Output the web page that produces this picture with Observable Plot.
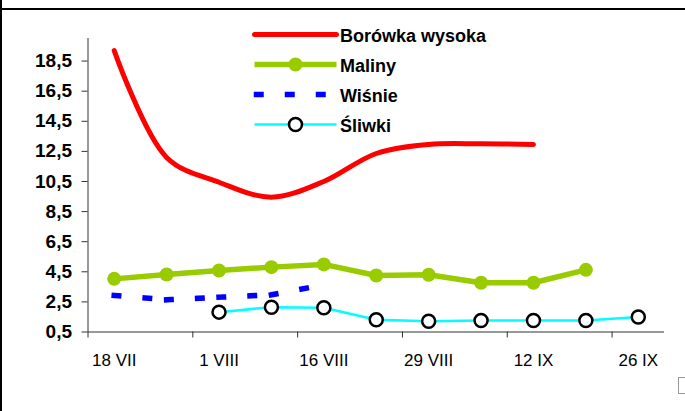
<!DOCTYPE html>
<html>
<head>
<meta charset="utf-8">
<script src="https://cdn.jsdelivr.net/npm/d3@7"></script>
<script src="https://cdn.jsdelivr.net/npm/@observablehq/plot@0.6"></script>
<style>
  html, body { margin: 0; padding: 0; background: #fff; }
  #wrap { position: relative; width: 685px; height: 411px; overflow: hidden; font-family: "Liberation Sans", Arial, sans-serif; }
  #wrap svg { display: block; }
  #legend { position: absolute; left: 250px; top: 18px; }
  .frame-top { position: absolute; left: 0; top: 8px; width: 685px; height: 2px; background: #000; }
  .frame-left { position: absolute; left: 0; top: 0; width: 2px; height: 411px; background: #000; }
  .stub { position: absolute; left: 678px; top: 377px; width: 12px; height: 15px; border: 1px solid #999; background: #fff; }
</style>
</head>
<body>
<div id="wrap">
  <div id="chart"></div>
  <div id="legend"></div>
  <div class="frame-top"></div>
  <div class="frame-left"></div>
  <div class="stub"></div>
</div>
<script>
// ---- data (category index 0..10) ----
const xTickLabels = ["18 VII", "1 VIII", "16 VIII", "29 VIII", "12 IX", "26 IX"];
const xTickIndex  = [0, 2, 4, 6, 8, 10];
const yTicks = [0.5, 2.5, 4.5, 6.5, 8.5, 10.5, 12.5, 14.5, 16.5, 18.5];

const seriesNames = ["Borówka wysoka", "Maliny", "Wiśnie", "Śliwki"];
const borowka = [19.2, 12.1, 10.45, 9.46, 10.5, 12.36, 12.96, 13.0, 12.96, null, null];
const maliny  = [4.03, 4.32, 4.59, 4.81, 4.99, 4.25, 4.30, 3.77, 3.77, 4.63, null];
const wisnie  = [2.93, 2.64, 2.81, 2.97, 3.64, null, null, null, null, null, null];
const sliwki  = [null, null, 1.82, 2.15, 2.11, 1.31, 1.22, 1.26, 1.26, 1.26, 1.5];

const colors = { red: "#FF0000", green: "#99CC00", blue: "#0000FF", cyan: "#00FFFF" };

const toPts = arr => arr.map((v, i) => ({i, v})).filter(d => d.v != null);
const bPts = toPts(borowka), mPts = toPts(maliny), wPts = toPts(wisnie), sPts = toPts(sliwki);
const wSegs = d3.pairs(wPts).map(([a, b]) => ({x1: a.i, y1: a.v, x2: b.i, y2: b.v}));
const boundaries = d3.range(-0.5, 10.5, 2);
const axisColor = "#333";

const chart = Plot.plot({
  width: 685, height: 411,
  marginLeft: 87.5, marginRight: 21, marginTop: 38, marginBottom: 79.5,
  x: {type: "linear", domain: [-0.5, 10.5]},
  y: {domain: [0.5, 20]},
  style: {fontFamily: "'Liberation Sans', Arial, sans-serif", background: "transparent", color: "#000"},
  marks: [
    Plot.axisY({ticks: yTicks, tickSize: 6, tickPadding: 10, stroke: axisColor,
      tickFormat: d => String(d).replace(".", ","), fontSize: 19, fontWeight: "bold", label: null}),
    Plot.axisX({ticks: boundaries, tickSize: 6, stroke: axisColor, tickFormat: () => "", label: null}),
    Plot.axisX({ticks: xTickIndex, tickSize: 0, tickPadding: 21.5, fontSize: 17,
      tickFormat: i => xTickLabels[xTickIndex.indexOf(i)], label: null}),
    Plot.ruleY([0.5], {stroke: axisColor, strokeWidth: 1}),
    Plot.ruleX([-0.5], {stroke: axisColor, strokeWidth: 1}),
    Plot.line(bPts, {x: "i", y: "v", stroke: colors.red, strokeWidth: 5, curve: "catmull-rom", strokeLinecap: "round"}),
    Plot.link(wSegs, {x1: "x1", y1: "y1", x2: "x2", y2: "y2", stroke: colors.blue, strokeWidth: 5.5,
      strokeDasharray: "4.5,26.5", strokeLinecap: "square"}),
    Plot.line(mPts, {x: "i", y: "v", stroke: colors.green, strokeWidth: 5.5}),
    Plot.dot(mPts, {x: "i", y: "v", r: 7, fill: colors.green}),
    Plot.line(sPts, {x: "i", y: "v", stroke: colors.cyan, strokeWidth: 2.5}),
    Plot.dot(sPts, {x: "i", y: "v", r: 6.5, fill: "white", stroke: "black", strokeWidth: 2.5})
  ]
});
document.getElementById("chart").appendChild(chart);

// ---- legend ----
const legendRows = seriesNames.map(n => ({name: n}));
const row = n => legendRows.filter(d => d.name === n);
const legend = Plot.plot({
  width: 250, height: 125,
  marginLeft: 0, marginRight: 0, marginTop: 0, marginBottom: 0,
  x: {type: "linear", domain: [0, 1], range: [4, 86], axis: null},
  y: {type: "point", domain: seriesNames, range: [15.3, 107], padding: 0, axis: null},
  style: {fontFamily: "'Liberation Sans', Arial, sans-serif", background: "transparent", color: "#000"},
  marks: [
    Plot.link(row(seriesNames[0]), {x1: () => 0, x2: () => 1, y1: "name", y2: "name", stroke: colors.red, strokeWidth: 5, strokeLinecap: "round"}),
    Plot.link(row(seriesNames[1]), {x1: () => 0, x2: () => 1, y1: "name", y2: "name", stroke: colors.green, strokeWidth: 5.5}),
    Plot.dot(row(seriesNames[1]), {x: () => 0.5, y: "name", r: 7, fill: colors.green}),
    Plot.link(row(seriesNames[2]), {x1: () => 0, x2: () => 1, y1: "name", y2: "name", stroke: colors.blue, strokeWidth: 5.5,
      strokeDasharray: "4.5,26.5", strokeLinecap: "square", dx: 2}),
    Plot.link(row(seriesNames[3]), {x1: () => 0, x2: () => 1, y1: "name", y2: "name", stroke: colors.cyan, strokeWidth: 2.5}),
    Plot.dot(row(seriesNames[3]), {x: () => 0.5, y: "name", r: 6.5, fill: "white", stroke: "black", strokeWidth: 2.5}),
    Plot.text(legendRows, {x: () => 1, y: "name", text: "name", dx: 3.5, dy: 1.5, textAnchor: "start",
      fontSize: 18, fontWeight: "bold", fill: "#000"})
  ]
});
document.getElementById("legend").appendChild(legend);
</script>
</body>
</html>
